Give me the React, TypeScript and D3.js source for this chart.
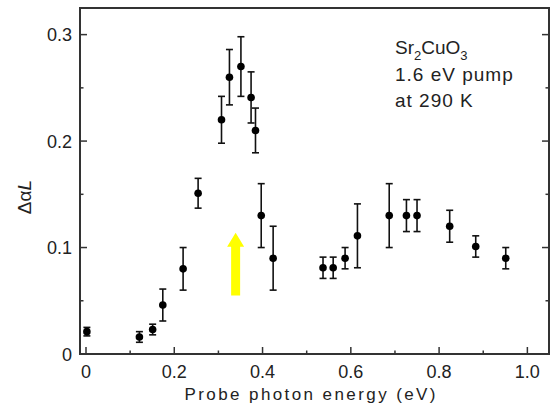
import * as d3 from "d3";

// photon energy (eV), signal and error bar half-heights
const energy = [0.002, 0.121, 0.151, 0.174, 0.220, 0.254, 0.307, 0.325, 0.351, 0.374, 0.384, 0.397, 0.424, 0.537, 0.560, 0.587, 0.615, 0.687, 0.726, 0.750, 0.824, 0.883, 0.951];
const signal = [0.021, 0.016, 0.023, 0.046, 0.080, 0.151, 0.220, 0.260, 0.270, 0.241, 0.210, 0.130, 0.090, 0.081, 0.081, 0.090, 0.111, 0.130, 0.130, 0.130, 0.120, 0.101, 0.090];
const errBar = [0.004, 0.005, 0.005, 0.015, 0.020, 0.014, 0.022, 0.026, 0.028, 0.024, 0.021, 0.030, 0.030, 0.010, 0.010, 0.010, 0.030, 0.030, 0.015, 0.015, 0.015, 0.010, 0.010];

const xTicks = [0, 0.2, 0.4, 0.6, 0.8, 1.0];
const xMinor = [0.1, 0.3, 0.5, 0.7, 0.9];
const yTicks = [0, 0.1, 0.2, 0.3];
const yMinor = [0.05, 0.15, 0.25];
const xTickLabels = ["0", "0.2", "0.4", "0.6", "0.8", "1.0"];
const yTickLabels = ["0", "0.1", "0.2", "0.3"];

// yellow arrow marking the pump energy
const arrowEnergy = 0.339;
const arrowFrom = 0.055;
const arrowTo = 0.114;

const W = 553;
const H = 419;
const left = 80, right = 549, top = 8, bottom = 354;

const x = d3.scaleLinear().domain([-0.0136, 1.049]).range([left, right]);
const y = d3.scaleLinear().domain([0, 0.325]).range([bottom, top]);

const font = "'Liberation Sans', Arial, sans-serif";
const ink = "#222";

export default function App() {
  const pts = energy.map((e, i) => ({ e, v: signal[i], err: errBar[i] }));

  const ax = x(arrowEnergy);
  const ay0 = y(arrowFrom);
  const ay1 = y(arrowTo);
  const headH = 14;
  const arrowPath = d3.path();
  arrowPath.moveTo(ax - 4.5, ay0);
  arrowPath.lineTo(ax - 4.5, ay1 + headH);
  arrowPath.lineTo(ax - 8.5, ay1 + headH);
  arrowPath.lineTo(ax, ay1);
  arrowPath.lineTo(ax + 8.5, ay1 + headH);
  arrowPath.lineTo(ax + 4.5, ay1 + headH);
  arrowPath.lineTo(ax + 4.5, ay0);
  arrowPath.closePath();

  return (
    <svg width={W} height={H} style={{ position: "absolute", left: 0, top: 0, background: "#fff" }}>
      {/* ticks, all pointing inward */}
      <g stroke="#333" strokeWidth={1.5}>
        {xTicks.map((t) => (
          <line key={"xt" + t} x1={x(t)} x2={x(t)} y1={bottom} y2={bottom - 7} />
        ))}
        {xMinor.map((t) => (
          <line key={"xm" + t} x1={x(t)} x2={x(t)} y1={bottom} y2={bottom - 3.5} />
        ))}
        {yTicks.map((t) => (
          <g key={"yt" + t}>
            <line x1={left} x2={left + 7} y1={y(t)} y2={y(t)} />
            <line x1={right} x2={right - 7} y1={y(t)} y2={y(t)} />
          </g>
        ))}
        {yMinor.map((t) => (
          <g key={"ym" + t}>
            <line x1={left} x2={left + 3.5} y1={y(t)} y2={y(t)} />
            <line x1={right} x2={right - 3.5} y1={y(t)} y2={y(t)} />
          </g>
        ))}
      </g>
      <rect x={left} y={top} width={right - left} height={bottom - top} fill="none" stroke="#333" strokeWidth={2} />

      {/* tick labels */}
      <g fontFamily={font} fontSize={18} fill={ink}>
        {xTicks.map((t, i) => (
          <text key={"xl" + t} x={x(t)} y={378} textAnchor="middle">{xTickLabels[i]}</text>
        ))}
        {yTicks.map((t, i) => (
          <text key={"yl" + t} x={72} y={y(t) + 6.5} textAnchor="end">{yTickLabels[i]}</text>
        ))}
      </g>

      {/* axis titles */}
      <text x={310} y={400} textAnchor="middle" fontFamily={font} fontSize={17} fill={ink} textLength={251} lengthAdjust="spacing">
        Probe photon energy (eV)
      </text>
      <text transform="translate(31,197) rotate(-90)" textAnchor="middle" fontFamily={font} fontSize={19} fill={ink}>
        Δα<tspan fontStyle="italic">L</tspan>
      </text>

      {/* arrow */}
      <path d={arrowPath.toString()} fill="#ffff00" />

      {/* error bars and points */}
      <g stroke="#111" strokeWidth={1.6}>
        {pts.map((p, i) => (
          <g key={"eb" + i}>
            <line x1={x(p.e)} x2={x(p.e)} y1={y(p.v - p.err)} y2={y(p.v + p.err)} />
            <line x1={x(p.e) - 3.5} x2={x(p.e) + 3.5} y1={y(p.v - p.err)} y2={y(p.v - p.err)} />
            <line x1={x(p.e) - 3.5} x2={x(p.e) + 3.5} y1={y(p.v + p.err)} y2={y(p.v + p.err)} />
          </g>
        ))}
      </g>
      <g fill="#000">
        {pts.map((p, i) => (
          <circle key={"pt" + i} cx={x(p.e)} cy={y(p.v)} r={3.8} />
        ))}
      </g>

      {/* annotation */}
      <g fontFamily={font} fontSize={19} fill={ink}>
        <text x={395} y={54}>
          Sr<tspan fontSize={13} dy={6}>2</tspan><tspan dy={-6}>CuO</tspan><tspan fontSize={13} dy={6}>3</tspan>
        </text>
        <text x={395} y={81} letterSpacing={1}>1.6 eV pump</text>
        <text x={395} y={107} letterSpacing={1}>at 290 K</text>
      </g>
    </svg>
  );
}
